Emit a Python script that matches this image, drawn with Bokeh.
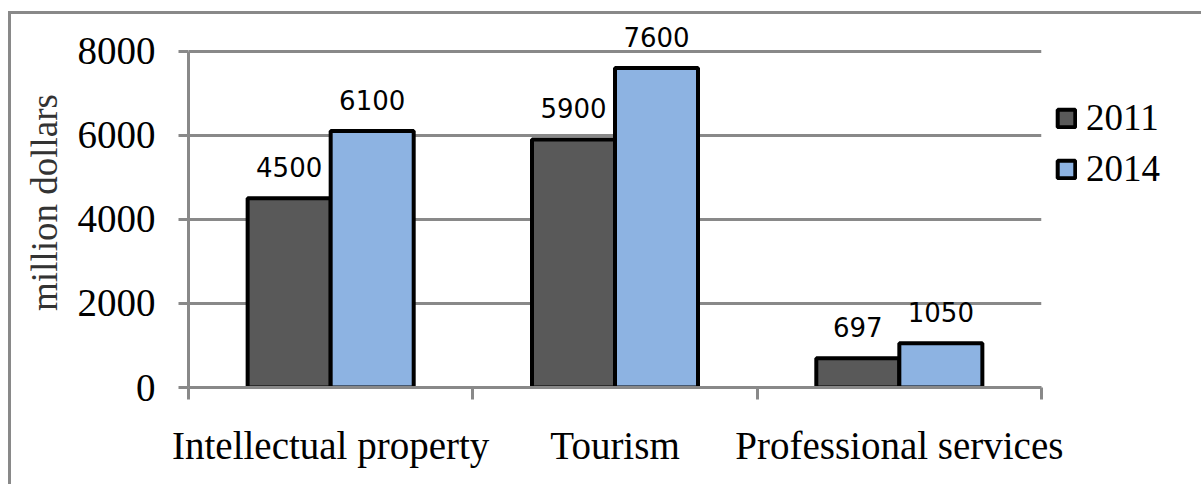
from bokeh.plotting import figure
from bokeh.models import (FactorRange, Range1d, LinearAxis, CategoricalAxis, FixedTicker,
                          Legend, LegendItem, ColumnDataSource, LabelSet, Grid)
from bokeh.transform import dodge
from bokeh.core.properties import value
from bokeh.embed import file_html
from bokeh.resources import INLINE

categories = ["Intellectual property", "Tourism", "Professional services"]
years = ["2011", "2014"]
values_2011 = [4500, 5900, 697]
values_2014 = [6100, 7600, 1050]
y_ticks = [0, 2000, 4000, 6000, 8000]
y_label = "million dollars"

GRAY = "#898989"
COL_2011 = "#595959"
COL_2014 = "#8db3e2"
SERIF = "Liberation Serif"
BAR_W = 0.292
OFF = BAR_W / 2

src = ColumnDataSource(dict(
    cat=categories,
    v2011=values_2011,
    v2014=values_2014,
    l2011=[str(v) for v in values_2011],
    l2014=[str(v) for v in values_2014],
))

# a little headroom above the top gridline so the value labels are not clipped
p = figure(width=1185, height=470,
           x_range=FactorRange(*categories, range_padding=0),
           y_range=Range1d(0, 8800),
           output_backend="svg", toolbar_location=None,
           x_axis_location=None, y_axis_location=None,
           min_border_left=177, min_border_right=155,
           min_border_top=3, min_border_bottom=97)
p.frame_width = 853
p.frame_height = 370
p.outline_line_color = None
p.background_fill_color = "white"
p.border_fill_color = "white"
p.styles = {"border-top": f"3px solid {GRAY}",
            "border-left": f"3px solid {GRAY}",
            "margin-left": "8px", "margin-top": "11px"}
for g in p.grid:
    g.visible = False

# y axis
yax = LinearAxis(ticker=FixedTicker(ticks=y_ticks, minor_ticks=[]),
                 bounds=(y_ticks[0], y_ticks[-1]),
                 axis_line_color=GRAY, axis_line_width=3,
                 major_tick_line_color=GRAY, major_tick_line_width=3,
                 major_tick_out=10, major_tick_in=0,
                 minor_tick_line_color=None,
                 major_label_text_font=SERIF, major_label_text_font_size="39px",
                 major_label_text_color="black", major_label_standoff=23,
                 axis_label=y_label, axis_label_text_font=SERIF,
                 axis_label_text_font_size="37px", axis_label_text_font_style="normal",
                 axis_label_text_color="#333333", axis_label_standoff=10)
p.add_layout(yax, "left")
p.add_layout(Grid(dimension=1, ticker=yax.ticker, grid_line_color=GRAY, grid_line_width=3))

# x boundary ticks + axis line (category boundaries in the factor range's own units)
bax = LinearAxis(ticker=FixedTicker(ticks=[], minor_ticks=list(range(len(categories) + 1))),
                 axis_line_color=GRAY, axis_line_width=3,
                 major_tick_line_color=None,
                 minor_tick_line_color=GRAY, minor_tick_line_width=3,
                 minor_tick_out=12, minor_tick_in=0,
                 major_label_text_font_size="0px")
p.add_layout(bax, "below")

cax = CategoricalAxis(axis_line_color=None, major_tick_line_color=None,
                      minor_tick_line_color=None,
                      major_label_text_font=SERIF, major_label_text_font_size="39px",
                      major_label_text_color="black", major_label_standoff=18)
p.add_layout(cax, "below")

r1 = p.vbar(x=dodge("cat", -OFF, range=p.x_range), top="v2011", width=BAR_W, source=src,
            fill_color=COL_2011, line_color="black", line_width=4)
r2 = p.vbar(x=dodge("cat", OFF, range=p.x_range), top="v2014", width=BAR_W, source=src,
            fill_color=COL_2014, line_color="black", line_width=4)

for off, fld, lab in [(-OFF, "v2011", "l2011"), (OFF, "v2014", "l2014")]:
    p.add_layout(LabelSet(x=dodge("cat", off, range=p.x_range), y=fld, text=lab, source=src,
                          text_align="center", text_baseline="alphabetic", y_offset=21,
                          text_font=value("DejaVu Sans"), text_font_size=value("26px"),
                          text_color="black"))

legend = Legend(items=[LegendItem(label=years[0], renderers=[r1]),
                       LegendItem(label=years[1], renderers=[r2])],
                location="top_left", glyph_width=22, glyph_height=22,
                label_text_font=SERIF, label_text_font_size="37px",
                label_text_color="black",
                label_standoff=9, label_height=40, spacing=8,
                title=" ", title_text_font_size="20px", title_standoff=42,
                padding=0, margin=14, border_line_color=None,
                background_fill_alpha=0)
p.add_layout(legend, "right")

open("out.html", "w").write(file_html(p, INLINE))
